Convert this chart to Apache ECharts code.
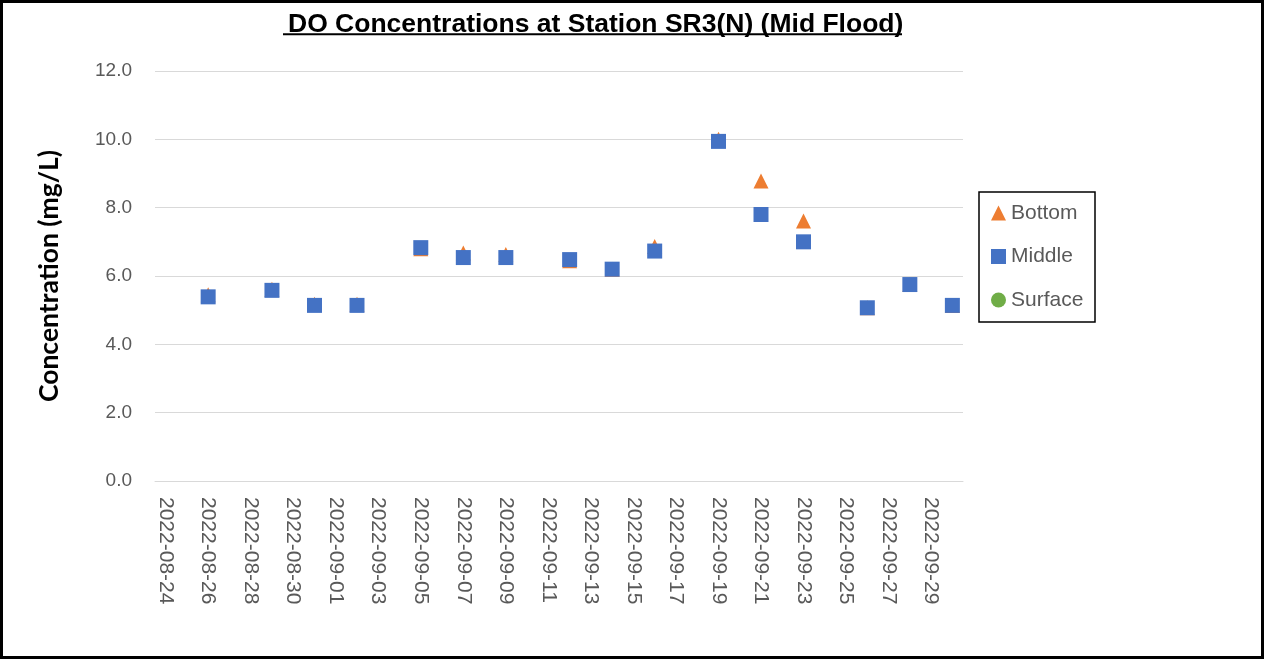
<!DOCTYPE html>
<html>
<head>
<meta charset="utf-8">
<script src="https://cdn.jsdelivr.net/npm/echarts@6/dist/echarts.min.js"></script>
<style>
  html, body { margin: 0; padding: 0; background: #fff; }
  #chart { width: 1264px; height: 659px; }
</style>
</head>
<body>
<div id="chart"></div>
<script>
/* x categories: one slot per day */
const dates = [
  '2022-08-24', '2022-08-25', '2022-08-26', '2022-08-27', '2022-08-28', '2022-08-29',
  '2022-08-30', '2022-08-31', '2022-09-01', '2022-09-02', '2022-09-03', '2022-09-04',
  '2022-09-05', '2022-09-06', '2022-09-07', '2022-09-08', '2022-09-09', '2022-09-10',
  '2022-09-11', '2022-09-12', '2022-09-13', '2022-09-14', '2022-09-15', '2022-09-16',
  '2022-09-17', '2022-09-18', '2022-09-19', '2022-09-20', '2022-09-21', '2022-09-22',
  '2022-09-23', '2022-09-24', '2022-09-25', '2022-09-26', '2022-09-27', '2022-09-28',
  '2022-09-29', '2022-09-30'
]

/* sampling days */
const sampleDates = [
  '2022-08-26', '2022-08-29', '2022-08-31', '2022-09-02', '2022-09-05', '2022-09-07',
  '2022-09-09', '2022-09-12', '2022-09-14', '2022-09-16', '2022-09-19', '2022-09-21',
  '2022-09-23', '2022-09-26', '2022-09-28', '2022-09-30'
]

const bottom  = [5.45, 5.61, 5.17, 5.17, 6.80, 6.67, 6.63, 6.45, 6.20, 6.86, 10.0, 8.78, 7.61, 5.07, 5.75, 5.14]
const middle  = [5.39, 5.58, 5.14, 5.14, 6.83, 6.54, 6.54, 6.48, 6.20, 6.73, 9.94, 7.80, 7.00, 5.07, 5.75, 5.14]
const surface = [5.39, 5.58, 5.14, 5.14, 6.83, 6.54, 6.54, 6.48, 6.20, 6.73, 9.94, 7.80, 7.00, 5.07, 5.75, 5.14]

const pairs = vals => sampleDates.map((d, i) => [d, vals[i]])

const FONT = 'Liberation Sans, Arial, sans-serif'

const chart = echarts.init(document.getElementById('chart'))

const option = {
  animation: false,
  title: {
    text: 'DO Concentrations at Station SR3(N) (Mid Flood)',
    left: 283,
    top: 6,
    textStyle: {
      fontFamily: FONT,
      fontSize: 26.5,
      fontWeight: 'bold',
      color: '#000'
    }
  },
  graphic: [
    {
      type: 'rect',
      shape: { x: 1.5, y: 1.5, width: 1261, height: 656 },
      style: { fill: 'none', stroke: '#000', lineWidth: 3 }
    },
    {
      // title underline
      type: 'line',
      shape: { x1: 283, y1: 34.3, x2: 902, y2: 34.3 },
      style: { stroke: '#000', lineWidth: 2 }
    },
    {
      // legend frame
      type: 'rect',
      shape: { x: 979, y: 192, width: 116, height: 130 },
      style: { fill: 'none', stroke: '#000', lineWidth: 1.5 }
    }
  ],
  legend: {
    orient: 'vertical',
    left: 979,
    top: 192,
    padding: [10.5, 12, 10, 12],
    itemGap: 22.5,
    itemWidth: 15,
    itemHeight: 15,
    textStyle: {
      fontFamily: FONT,
      fontSize: 21,
      color: '#595959'
    },
    data: [
      { name: 'Bottom', icon: 'triangle' },
      { name: 'Middle', icon: 'rect' },
      { name: 'Surface', icon: 'circle' }
    ]
  },
  grid: {
    left: 155,
    right: 301,
    top: 71,
    bottom: 178
  },
  xAxis: {
    type: 'category',
    data: dates,
    boundaryGap: true,
    axisLine: { lineStyle: { color: '#d9d9d9', width: 1 } },
    axisTick: { show: false },
    axisLabel: {
      interval: 1,
      rotate: -90,
      margin: 16,
      fontFamily: FONT,
      fontSize: 21,
      color: '#595959'
    }
  },
  yAxis: {
    type: 'value',
    min: 0,
    max: 12,
    interval: 2,
    name: 'Concentration (mg/L)',
    nameLocation: 'middle',
    nameGap: 92,
    nameTextStyle: {
      fontFamily: 'Lato, Liberation Sans, sans-serif',
      fontSize: 26.5,
      fontWeight: 'bold',
      color: '#000'
    },
    axisLine: { show: false },
    axisTick: { show: false },
    splitLine: { lineStyle: { color: '#d9d9d9', width: 1 } },
    axisLabel: {
      margin: 23,
      fontFamily: FONT,
      fontSize: 19,
      color: '#595959',
      formatter: v => v.toFixed(1)
    }
  },
  series: [
    {
      name: 'Surface',
      type: 'scatter',
      symbol: 'circle',
      symbolSize: 12,
      z: 1,
      itemStyle: { color: '#70AD47', opacity: 1 },
      data: pairs(surface)
    },
    {
      name: 'Bottom',
      type: 'scatter',
      symbol: 'triangle',
      symbolSize: 15,
      z: 2,
      itemStyle: { color: '#ED7D31', opacity: 1 },
      data: pairs(bottom)
    },
    {
      name: 'Middle',
      type: 'scatter',
      symbol: 'rect',
      symbolSize: 15,
      z: 3,
      itemStyle: { color: '#4472C4', opacity: 1 },
      data: pairs(middle)
    }
  ]
}

chart.setOption(option)
</script>
</body>
</html>
